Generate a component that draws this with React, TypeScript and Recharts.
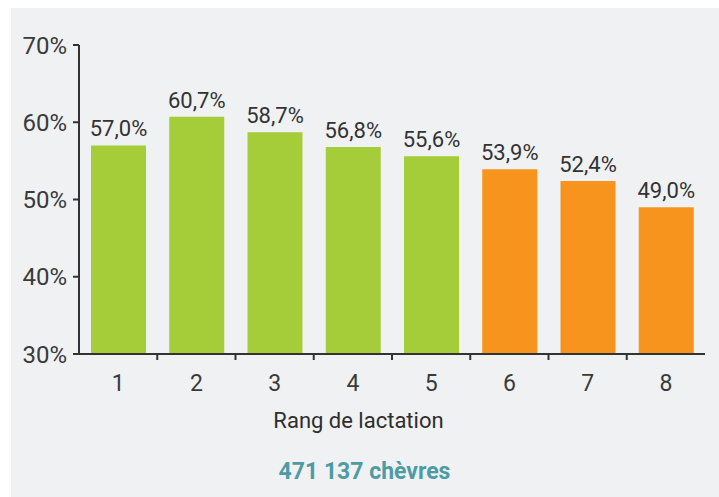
import { Bar, BarChart, Cell, LabelList, XAxis, YAxis } from 'recharts';

const rangs = ['1', '2', '3', '4', '5', '6', '7', '8'];
const taux = [57.0, 60.7, 58.7, 56.8, 55.6, 53.9, 52.4, 49.0];
const yTicks = [30, 40, 50, 60, 70];

const data = rangs.map((rang, i) => ({ rang, taux: taux[i] }));

const FONT = 'Roboto, "Noto Sans", sans-serif';
const BAND = (705 - 79) / 8;

const formatPct = (v: number) => v.toFixed(1).replace('.', ',') + '%';

const RangTick = (props: any) => {
    const { x, y, payload, index } = props;
    return (
        <g>
            {index > 0 && (
                <line x1={x - BAND / 2} x2={x - BAND / 2} y1={y} y2={y + 6} stroke="#333" strokeWidth={2} />
            )}
            <text x={x} y={y + 37} textAnchor="middle" fontSize={23} fill="#3a3a3a" fontFamily={FONT}>
                {payload.value}
            </text>
        </g>
    );
};

export default function App() {
    return (
        <div style={{ position: 'absolute', left: 0, top: 0, width: 719, height: 497, background: '#fff', overflow: 'hidden' }}>
            <div style={{ position: 'absolute', left: 11, top: 8, width: 708, height: 489, background: '#f0f1f3' }} />
            <div style={{ position: 'absolute', left: 0, top: 0 }}>
                <BarChart width={719} height={497} data={data} margin={{ top: 45, right: 14, left: 0, bottom: 103 }}>
                    <XAxis
                        dataKey="rang"
                        height={40}
                        tickSize={0}
                        tickMargin={0}
                        tick={<RangTick />}
                        axisLine={{ stroke: '#333', strokeWidth: 2 }}
                        interval={0}
                    />
                    <YAxis
                        width={79}
                        domain={[30, 70]}
                        ticks={yTicks}
                        tickFormatter={(v: number) => `${v}%`}
                        tickSize={6}
                        tickMargin={6}
                        tickLine={{ stroke: '#333', strokeWidth: 2 }}
                        axisLine={{ stroke: '#333', strokeWidth: 2 }}
                        tick={{ fontSize: 24, fill: '#3a3a3a', fontFamily: FONT }}
                        allowDataOverflow
                    />
                    <Bar dataKey="taux" barSize={55} isAnimationActive={false}>
                        {data.map((d, i) => (
                            <Cell key={d.rang} fill={i < 5 ? '#a5cd39' : '#f7941d'} />
                        ))}
                        <LabelList
                            dataKey="taux"
                            position="top"
                            offset={9}
                            formatter={(v: any) => formatPct(Number(v))}
                            style={{ fontSize: 22, fill: '#333', fontFamily: FONT }}
                        />
                    </Bar>
                </BarChart>
            </div>
            <div style={{ position: 'absolute', left: 0, width: 719, top: 408, textAlign: 'center', fontFamily: FONT, fontSize: 22, color: '#2e2e2e' }}>
                <span style={{ position: 'relative', left: -1 }}>Rang de lactation</span>
            </div>
            <div style={{ position: 'absolute', left: 0, width: 719, top: 458, textAlign: 'center', fontFamily: FONT, fontSize: 23, fontWeight: 700, color: '#4e9ba4' }}>
                <span style={{ position: 'relative', left: 5 }}>471 137 chèvres</span>
            </div>
        </div>
    );
}
